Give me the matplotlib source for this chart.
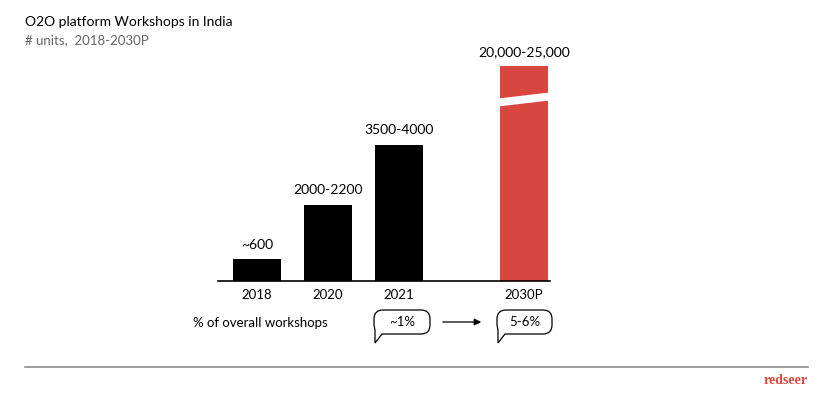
import matplotlib
matplotlib.use("Agg")
import matplotlib.pyplot as plt
from matplotlib.patches import Polygon, FancyBboxPatch, FancyArrowPatch
from matplotlib.path import Path
from matplotlib.patches import PathPatch

# ---- data ----
categories = ["2018", "2020", "2021", "2030P"]
values = [600, 2100, 3750, 22500]          # midpoints of labelled ranges
value_labels = ["~600", "2000-2200", "3500-4000", "20,000-25,000"]
broken_cap = 5900                            # displayed height of the broken 2030P bar
share_labels = ["~1%", "5-6%"]
share_title = "% of overall workshops"
title = "O2O platform Workshops in India"
subtitle = "# units,  2018-2030P"

FONT = ["Lato", "DejaVu Sans"]
W, H = 824, 396
fig = plt.figure(figsize=(W / 100, H / 100), dpi=100)

def fx(x):
    return x / W

def fy(y):
    return 1 - y / H

# axes placement (pixels)
ax_left, ax_right, ax_base, ax_top = 218, 550, 281, 30
ax = fig.add_axes([fx(ax_left), fy(ax_base), (ax_right - ax_left) / W, (ax_base - ax_top) / H])
positions = [0, 1, 2, 3.76]
colors = ["#000000", "#000000", "#000000", "#D9463F"]
disp = [min(v, broken_cap) for v in values]
bars = ax.bar(positions, disp, width=0.68, color=colors, zorder=2)
ax.set_xlim(-0.55, 4.13)
ax.set_ylim(0, 6900)
for s in ["top", "right", "left"]:
    ax.spines[s].set_visible(False)
ax.spines["bottom"].set_linewidth(1.2)
ax.set_yticks([])
ax.set_xticks(positions)
ax.set_xticklabels(categories, fontsize=9.5, family=FONT)
ax.tick_params(axis="x", length=0, pad=6)

for b, lab in zip(bars, value_labels):
    ax.annotate(lab, (b.get_x() + b.get_width() / 2, b.get_height()),
                xytext=(0, 6), textcoords="offset points", ha="center", va="bottom",
                fontsize=10, family=FONT)

# break marker on the 2030P bar (white slanted band)
b = bars[-1]
x0, x1 = b.get_x() - 0.02, b.get_x() + b.get_width() + 0.02
ppu = 6900 / (ax_base - ax_top)  # units per pixel
def yv(ypix):
    return (ax_base - ypix) * ppu
band = Polygon([(x0, yv(98.5)), (x1, yv(92.5)), (x1, yv(100.5)), (x0, yv(106.5))],
               closed=True, facecolor="white", edgecolor="none", zorder=3)
ax.add_patch(band)

# titles
fig.text(fx(25), fy(22), title, fontsize=10, family=FONT, va="center", ha="left")
fig.text(fx(25), fy(40), subtitle, fontsize=9.5, family=FONT, color="#666666", va="center", ha="left")

# share row
fig.text(fx(193), fy(323), share_title, fontsize=9.5, family=FONT, va="center", ha="left")

def bubble(xl, xr, yt, yb, text):
    r = 9
    verts = [
        (xl + r, yt), (xr - r, yt), (xr, yt), (xr, yt + r),
        (xr, yb - r), (xr, yb), (xr - r, yb),
        (xl + 8, yb), (xl + 1, yb + 9), (xl + 1, yb - 4),
        (xl, yb - r), (xl, yt + r), (xl, yt), (xl + r, yt),
    ]
    codes = [Path.MOVETO, Path.LINETO, Path.CURVE3, Path.CURVE3,
             Path.LINETO, Path.CURVE3, Path.CURVE3,
             Path.LINETO, Path.LINETO, Path.LINETO,
             Path.LINETO, Path.LINETO, Path.CURVE3, Path.CURVE3]
    v = [(fx(a), fy(c)) for a, c in verts]
    p = PathPatch(Path(v, codes), transform=fig.transFigure, facecolor="white",
                  edgecolor="black", linewidth=0.9)
    fig.patches.append(p)
    fig.text(fx((xl + xr) / 2), fy((yt + yb) / 2 - 0.5), text, fontsize=9.5, family=FONT,
             ha="center", va="center")

bubble(374, 430, 310, 334, share_labels[0])
bubble(497, 552, 310, 334, share_labels[1])
arr = FancyArrowPatch((fx(440), fy(322)), (fx(484), fy(322)), transform=fig.transFigure,
                      arrowstyle="-|>,head_length=4,head_width=2", color="black", linewidth=0.9)
fig.patches.append(arr)

# footer
fig.add_artist(plt.Line2D([fx(25), fx(808)], [fy(367), fy(367)], transform=fig.transFigure,
                          color="#8a8a8a", linewidth=1.2))
fig.text(fx(808), fy(380), "redseer", fontsize=10, family=["Liberation Serif", "DejaVu Serif"],
         fontweight="bold", color="#D9463F", ha="right", va="center")

fig.savefig("out.png", dpi=100)
